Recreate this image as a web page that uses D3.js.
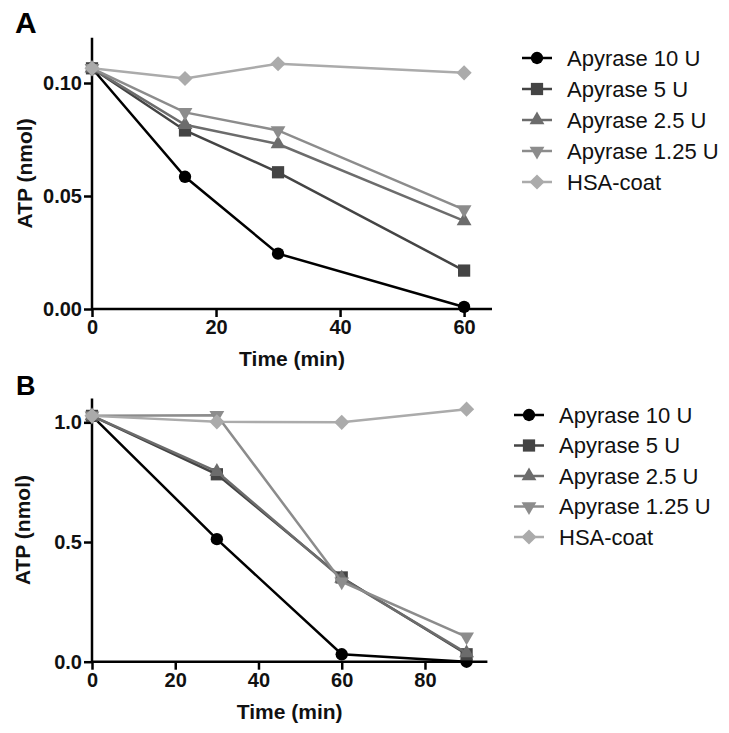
<!DOCTYPE html>
<html><head><meta charset="utf-8">
<script src="https://cdn.jsdelivr.net/npm/d3@7"></script>
<style>
body{margin:0;background:#fff;}
text{font-family:"Liberation Sans",Arial,sans-serif;}
</style></head>
<body><svg id="c" width="729" height="733"></svg>
<script>
const seriesNames = ["Apyrase 10 U","Apyrase 5 U","Apyrase 2.5 U","Apyrase 1.25 U","HSA-coat"];
const seriesColors = ["#000000","#444444","#6c6c6c","#8c8c8c","#ababab"];
const seriesSymbols = ["circle","square","triangle","triangleDown","diamond"];

// Panel A
const timeA = [0,15,30,60];
const a10 = [0.1065,0.0585,0.0245,0.0009];
const a5 = [0.1065,0.0790,0.0605,0.0170];
const a25 = [0.1065,0.0815,0.0730,0.0390];
const a125 = [0.1065,0.0870,0.0790,0.0440];
const aHSA = [0.1065,0.1020,0.1085,0.1045];
const xTicksA = [0,20,40,60];
const yTicksA = [0,0.05,0.10];

// Panel B
const timeB = [0,30,60,90];
const b10 = [1.027,0.512,0.031,0.000];
const b5 = [1.027,0.783,0.352,0.031];
const b25 = [1.027,0.794,0.348,0.036];
const b125 = [1.027,1.030,0.334,0.104];
const bHSA = [1.027,1.002,1.000,1.055];
const xTicksB = [0,20,40,60,80];
const yTicksB = [0,0.5,1.0];

const svg = d3.select("#c");

function symPath(kind){
  if(kind==="circle") return d3.symbol(d3.symbolCircle, 120)();
  if(kind==="square") return d3.symbol(d3.symbolSquare, 150)();
  if(kind==="triangle") return d3.symbol(d3.symbolTriangle, 95)();
  if(kind==="triangleDown") return d3.symbol(d3.symbolTriangle, 95)();
  if(kind==="diamond") return d3.symbol(d3.symbolSquare, 115)();
}
function symRot(kind){
  if(kind==="triangleDown") return " rotate(180)";
  if(kind==="diamond") return " rotate(45)";
  return "";
}

function panel(cfg){
  const g = svg.append("g");
  const x = d3.scaleLinear().domain(cfg.xDomain).range(cfg.xRange);
  const y = d3.scaleLinear().domain(cfg.yDomain).range(cfg.yRange);

  const xAxis = g.append("g").attr("transform",`translate(0,${cfg.yRange[0]})`)
    .call(d3.axisBottom(x).tickValues(cfg.xTicks).tickSize(8).tickPadding(3).tickFormat(d3.format("d")));
  const yAxis = g.append("g").attr("transform",`translate(${cfg.xRange[0]},0)`)
    .call(d3.axisLeft(y).tickValues(cfg.yTicks).tickSize(8).tickPadding(2).tickFormat(d3.format(cfg.yFmt)));
  [xAxis,yAxis].forEach(ax=>{
    ax.select(".domain").remove();
    ax.selectAll(".tick line").attr("stroke","#000").attr("stroke-width",2.5);
    ax.selectAll(".tick text").attr("fill","#111").style("font-size","20px").style("font-weight","bold");
  });
  g.append("line").attr("x1",cfg.xRange[0]).attr("x2",cfg.xRange[1]).attr("y1",cfg.yRange[0]).attr("y2",cfg.yRange[0]).attr("stroke","#000").attr("stroke-width",2.5);
  g.append("line").attr("x1",cfg.xRange[0]).attr("x2",cfg.xRange[0]).attr("y1",cfg.yRange[0]).attr("y2",cfg.yRange[1]).attr("stroke","#000").attr("stroke-width",2.5);

  const line = d3.line().x(d=>x(d[0])).y(d=>y(d[1]));
  cfg.series.forEach((vals,i)=>{
    const pts = cfg.time.map((t,j)=>[t,vals[j]]);
    g.append("path").datum(pts).attr("d",line).attr("fill","none")
      .attr("stroke",seriesColors[i]).attr("stroke-width",2.5);
    g.selectAll(null).data(pts).enter().append("path")
      .attr("d",symPath(seriesSymbols[i]))
      .attr("transform",d=>`translate(${x(d[0])},${y(d[1])})${symRot(seriesSymbols[i])}`)
      .attr("fill",seriesColors[i]);
  });

  g.append("text").attr("x",(cfg.xRange[0]+cfg.xRange[1])/2).attr("y",cfg.xTitleY)
    .attr("text-anchor","middle").style("font-size","21px").style("font-weight","bold").attr("fill","#111").text("Time (min)");
  g.append("text").attr("transform",`translate(${cfg.yTitleX},${(cfg.yRange[0]+cfg.yRange[1])/2}) rotate(-90)`)
    .attr("text-anchor","middle").style("font-size","21px").style("font-weight","bold").attr("fill","#111").text("ATP (nmol)");
  g.append("text").attr("x",cfg.letterX).attr("y",cfg.letterY).style("font-size",cfg.letterSize+"px").style("font-weight","bold").attr("fill","#000").text(cfg.letter);

  const lg = g.append("g");
  seriesNames.forEach((n,i)=>{
    const yy = cfg.legY + i*cfg.legStep;
    lg.append("line").attr("x1",cfg.legX).attr("x2",cfg.legX+30).attr("y1",yy).attr("y2",yy)
      .attr("stroke",seriesColors[i]).attr("stroke-width",2.5);
    lg.append("path").attr("d",symPath(seriesSymbols[i]))
      .attr("transform",`translate(${cfg.legX+15},${yy})${symRot(seriesSymbols[i])}`).attr("fill",seriesColors[i]);
    lg.append("text").attr("x",cfg.legX+45).attr("y",yy).attr("dy","0.36em")
      .style("font-size","22px").attr("fill","#111").text(n);
  });
}

panel({
  xDomain:[0,64.5], xRange:[92,492], yDomain:[0,0.12], yRange:[309,37.8],
  xTicks:xTicksA, yTicks:yTicksA, yFmt:".2f", time:timeA,
  series:[a10,a5,a25,a125,aHSA],
  xTitleY:366, yTitleX:32, letter:"A", letterX:15, letterY:33, letterSize:30,
  legX:522, legY:58, legStep:31
});
panel({
  xDomain:[0,95], xRange:[92,487.4], yDomain:[0,1.1], yRange:[661.7,398.4],
  xTicks:xTicksB, yTicks:yTicksB, yFmt:".1f", time:timeB,
  series:[b10,b5,b25,b125,bHSA],
  xTitleY:719, yTitleX:30, letter:"B", letterX:16, letterY:395, letterSize:27,
  legX:514, legY:415, legStep:30.5
});
</script></body></html>
